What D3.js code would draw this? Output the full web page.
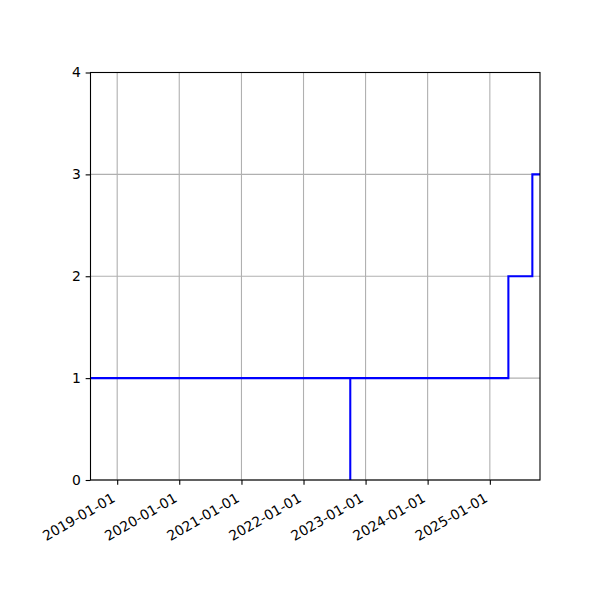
<!DOCTYPE html>
<html>
<head>
<meta charset="utf-8">
<script src="https://cdn.jsdelivr.net/npm/d3@7"></script>
<style>
  body { margin: 0; background: #fff; }
  svg text { font-family: "DejaVu Sans", sans-serif; }
</style>
</head>
<body>
<div id="chart"></div>
<script>
// Step series values
const dates = ["2018-07-28", "2022-10-03", "2022-10-03", "2025-04-20", "2025-09-08", "2025-10-23"];
const values = [1, 0, 1, 2, 3, 3];
const yTicks = [0, 1, 2, 3, 4];
const xTickYears = [2019, 2020, 2021, 2022, 2023, 2024, 2025];

// Layout
const margin = { top: 72.5, right: 60, bottom: 120, left: 90.5 };
const width = 600 - margin.left - margin.right;
const height = 600 - margin.top - margin.bottom;
const fontSize = 13.9;
const tickLen = 4.86;
const tickPad = 4.86;

const data = dates.map((d, i) => ({ date: new Date(d + "T00:00:00"), value: values[i] }));

const x = d3.scaleTime()
  .domain(d3.extent(data, d => d.date))
  .range([0, width]);

const y = d3.scaleLinear()
  .domain([0, 4])
  .range([height, 0]);

const svg = d3.select("#chart")
  .append("svg")
  .attr("width", 600)
  .attr("height", 600)
  .append("g")
  .attr("transform", `translate(${margin.left},${margin.top})`);

const tickDates = xTickYears.map(yr => new Date(yr, 0, 1));

// Grid lines
svg.selectAll(".xGrid")
  .data(tickDates)
  .join("line")
  .attr("x1", d => x(d))
  .attr("x2", d => x(d))
  .attr("y1", 0)
  .attr("y2", height)
  .attr("stroke", "#b0b0b0")
  .attr("stroke-width", 1.1);

svg.selectAll(".yGrid")
  .data(yTicks)
  .join("line")
  .attr("x1", 0)
  .attr("x2", width)
  .attr("y1", d => y(d))
  .attr("y2", d => y(d))
  .attr("stroke", "#b0b0b0")
  .attr("stroke-width", 1.1);

// Step line
const line = d3.line()
  .x(d => x(d.date))
  .y(d => y(d.value))
  .curve(d3.curveStepAfter);

svg.append("path")
  .datum(data)
  .attr("fill", "none")
  .attr("stroke", "#0000ff")
  .attr("stroke-width", 2.08)
  .attr("d", line);

// Axes
const fmt = d3.timeFormat("%Y-%m-%d");
const labelDrop = tickLen + tickPad + 1.164 * fontSize * Math.cos(Math.PI / 6);

svg.append("g")
  .attr("transform", `translate(0,${height})`)
  .call(d3.axisBottom(x)
    .tickValues(tickDates)
    .tickFormat(fmt)
    .tickSize(tickLen)
    .tickPadding(tickPad))
  .call(g => g.select(".domain").remove())
  .call(g => g.selectAll(".tick line").attr("stroke", "#000").attr("stroke-width", 1.1))
  .selectAll(".tick text")
  .attr("fill", "#000")
  .style("font-size", fontSize + "px")
  .attr("text-anchor", "end")
  .attr("x", 0)
  .attr("y", -0.236 * fontSize)
  .attr("dy", null)
  .attr("transform", `translate(0,${labelDrop}) rotate(-30)`);

svg.append("g")
  .call(d3.axisLeft(y)
    .tickValues(yTicks)
    .tickFormat(d3.format("d"))
    .tickSize(tickLen)
    .tickPadding(tickPad))
  .call(g => g.select(".domain").remove())
  .call(g => g.selectAll(".tick line").attr("stroke", "#000").attr("stroke-width", 1.1))
  .selectAll(".tick text")
  .attr("fill", "#000")
  .style("font-size", fontSize + "px");

// Axes frame
svg.append("rect")
  .attr("width", width)
  .attr("height", height)
  .attr("fill", "none")
  .attr("stroke", "#000")
  .attr("stroke-width", 1.1);
</script>
</body>
</html>
